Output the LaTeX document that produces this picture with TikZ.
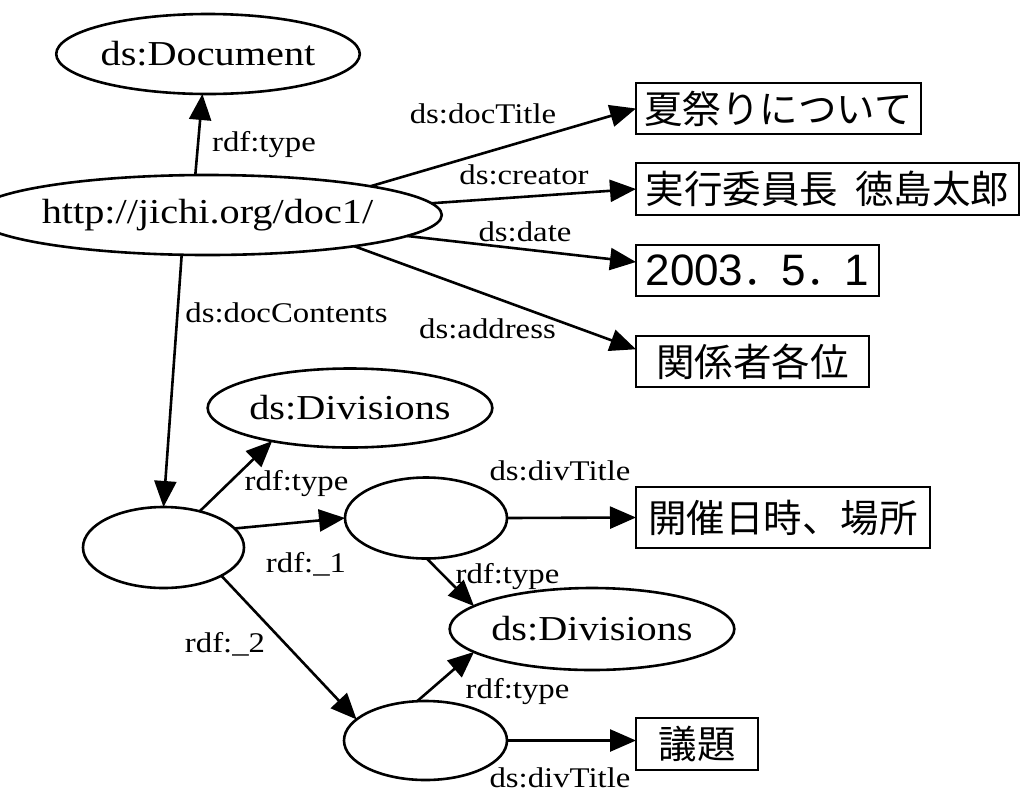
\documentclass[tikz,border=0pt]{standalone}
\usepackage{fontspec}
\usetikzlibrary{shapes.geometric,arrows.meta}
\newfontfamily\labfont{Liberation Serif}[FakeStretch=1.15]
\newfontfamily\jpfont{Noto Sans CJK JP}
\newfontfamily\numfont{Liberation Sans}
\newcommand\numtxt[1]{{\numfont\fontsize{44}{48}\selectfont #1}}
\begin{document}
\begin{tikzpicture}[x=1pt,y=-1pt,
  every node/.style={inner sep=0pt, outer sep=0pt},
  res/.style={ellipse, draw, line width=2.6pt, font=\labfont\fontsize{35}{40}\selectfont},
  lit/.style={rectangle, draw, line width=2.6pt, font=\jpfont\fontsize{38.5}{44}\selectfont},
  elab/.style={font=\labfont\fontsize{28.5}{33}\selectfont},
  edge/.style={line width=2.6pt, -{Triangle[length=26pt,width=22pt]}}]
\fill[white] (0,0) rectangle (1023,796);
\useasboundingbox (0,0) rectangle (1023,796);
% resource nodes
\node[res, minimum width=253pt, minimum height=80pt] (doc) at (208,54) {ds:Document};
\node[res, minimum width=391pt, minimum height=80pt] (uri) at (207.5,215) {http://jichi.org/doc1/};
\node[res, minimum width=254pt, minimum height=79pt] (divA) at (350,408) {ds:Divisions};
\node[res, minimum width=161pt, minimum height=81pt] (b0) at (163.5,547.5) {};
\node[res, minimum width=162pt, minimum height=81pt] (b1) at (426,518) {};
\node[res, minimum width=252pt, minimum height=82pt] (divB) at (592,629) {ds:Divisions};
\node[res, minimum width=163pt, minimum height=79pt] (b2) at (425.5,740.5) {};
% literal nodes
\node[lit, minimum width=285pt, minimum height=51pt] (t1) at (778.5,108.5) {夏祭りについて};
\node[lit, minimum width=383pt, minimum height=52pt] (t2) at (827.5,189) {実行委員長\hspace{0.45em}徳島太郎};
\node[lit, minimum width=243pt, minimum height=51pt] (t3) at (757.5,270.5) {\numtxt{2003}．\numtxt{5}．\numtxt{1}};
\node[lit, minimum width=233pt, minimum height=51pt] (t4) at (752.5,361.5) {関係者各位};
\node[lit, minimum width=294pt, minimum height=61pt] (t5) at (783,517.5) {開催日時、場所};
\node[lit, minimum width=122pt, minimum height=52pt] (t6) at (697,744) {議題};
% edges
\draw[edge] (uri.107) -- (doc.262);
\draw[edge] (uri.10) -- (t1.west);
\draw[edge] (uri.3) -- (t2.west);
\draw[edge] (uri.354) -- (t3.176);
\draw[edge] (uri.348) -- (t4.174);
\draw[edge] (uri.237) -- (b0.north);
\draw[edge] (b0.45) -- (divA.203);
\draw[edge] (b0.15) -- (b1.west);
\draw[edge] (b0.334) -- (b2.163);
\draw[edge] (b1.271) -- (divB.169);
\draw[edge] (b1.east) -- (t5.west);
\draw[edge] (b2.102) -- (divB.191);
\draw[edge] (b2.east) -- (b2.east -| t6.west);
% edge labels
\node[elab] (l1) at (264,144.5) {rdf:type};
\node[elab] (l2) at (483,113.5) {ds:docTitle};
\node[elab] (l3) at (524,174.5) {ds:creator};
\node[elab] (l4) at (525,231.5) {ds:date};
\node[elab] (l5) at (487.5,329) {ds:address};
\node[elab] (l6) at (286.5,312.5) {ds:docContents};
\node[elab] (l7) at (296.5,484) {rdf:type};
\node[elab] (l8) at (306,564.5) {rdf:\_1};
\node[elab] (l9) at (225,644.5) {rdf:\_2};
\node[elab] (l10) at (560,471) {ds:divTitle};
\node[elab] (l11) at (507.5,577) {rdf:type};
\node[elab] (l12) at (517.5,691.5) {rdf:type};
\node[elab] (l13) at (560,778) {ds:divTitle};
\end{tikzpicture}
\end{document}
